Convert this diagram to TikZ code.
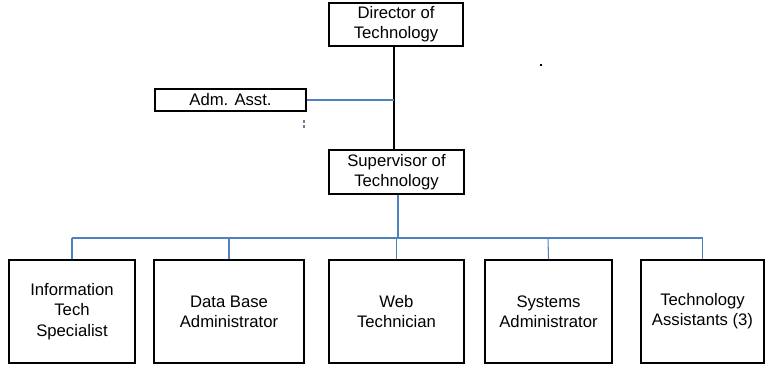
\documentclass[tikz,border=0pt]{standalone}
\usepackage{fontspec}
\setmainfont{Liberation Sans}
\usetikzlibrary{positioning}
\definecolor{linkblue}{RGB}{79,129,189}
\tikzset{
  post/.style={draw, line width=1.1pt, align=center, inner sep=0pt,
    font=\fontsize{9.5}{11.5}\selectfont},
  staff/.style={post, minimum height=2.06cm},
  link/.style={draw=linkblue, line width=0.6pt},
}

\begin{document}
\begin{tikzpicture}[x=0.02cm,y=-0.02cm]
	\useasboundingbox (0,0) rectangle (771,368);

	\node[post, minimum width=2.68cm, minimum height=0.86cm] (dir) at (396,24.5) {Director of\\Technology};
	\node[post, minimum width=3.02cm, minimum height=0.44cm] (adm) at (230.5,100) {Adm. Asst.};
	\node[post, minimum width=2.7cm, minimum height=0.88cm] (sup) at (396.5,172) {Supervisor of\\Technology};

	\node[staff, minimum width=2.52cm] (its) at (72,311.5) {Information\\Tech\\Specialist};
	\node[staff, minimum width=3.0cm] (dba) at (229,311.5) {Data Base\\Administrator};
	\node[staff, minimum width=2.7cm] (web) at (396.5,311.5) {Web\\Technician};
	\node[staff, minimum width=2.54cm] (sys) at (548.5,311.5) {Systems\\Administrator};
	\node[staff, minimum width=2.46cm] (tas) at (702.5,311.5) {Technology\\Assistants (3)};

	% chain of command
	\coordinate (top) at (394,0);
	\draw[line width=0.6pt] (dir.south -| top) -- (sup.north -| top);
	\draw[link] (adm.east) -- (adm.east -| top);

	% bus to the staff
	\coordinate (bus) at (398,238);
	\draw[link] (sup.south -| bus) -- (bus);
	\draw[link] (bus -| its) -- (bus -| tas);
	\foreach \n in {its,dba,web,tas}
		\draw[link] (bus -| \n) -- (\n.north);
	\draw[link] (548,238) -- (sys.north);

	% stray marks
	\fill[gray] (303,120) rectangle (305,123);
	\fill[linkblue] (303,125) rectangle (305,128);
	\fill (540,64) rectangle (542,66);
\end{tikzpicture}
\end{document}
